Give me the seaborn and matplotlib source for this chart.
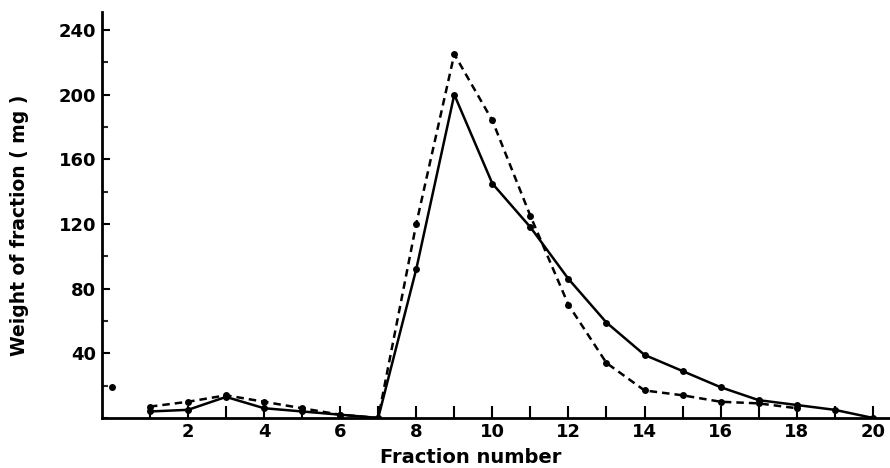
import matplotlib
matplotlib.use("Agg")
import matplotlib.pyplot as plt
import seaborn as sns
import pandas as pd
from matplotlib.ticker import MultipleLocator, FixedLocator

# ---- data ----
fraction = [1, 2, 3, 4, 5, 6, 7, 8, 9, 10, 11, 12, 13, 14, 15, 16, 17, 18, 19, 20]
solid_weight = [4, 5, 13, 6, 4, 2, 0, 92, 200, 145, 118, 86, 59, 39, 29, 19, 11, 8, 5, 0]

dash_fraction = [1, 2, 3, 4, 5, 6, 7, 8, 9, 10, 11, 12, 13, 14, 15, 16, 17, 18]
dashed_weight = [7, 10, 14, 10, 6, 2, 0, 120, 225, 184, 125, 70, 34, 17, 14, 10, 9, 6]

stray_x = [0]
stray_y = [19]

y_ticks = [40, 80, 120, 160, 200, 240]
x_label_ticks = [2, 4, 6, 8, 10, 12, 14, 16, 18, 20]

sns.set_theme(style="white")
plt.rcParams["font.family"] = ["DejaVu Sans"]
plt.rcParams["font.weight"] = "bold"
plt.rcParams["text.color"] = "black"
plt.rcParams["axes.labelcolor"] = "black"

fig = plt.figure(figsize=(8.9, 4.68), dpi=100)
ax = fig.add_axes([0.1146, 0.107, 0.884, 0.867])

df_s = pd.DataFrame({"x": fraction, "y": solid_weight})
df_d = pd.DataFrame({"x": dash_fraction, "y": dashed_weight})

sns.lineplot(data=df_s, x="x", y="y", ax=ax, color="black", linewidth=1.8,
             marker="o", markersize=5, markeredgewidth=0, sort=False)
sns.lineplot(data=df_d, x="x", y="y", ax=ax, color="black", linewidth=1.8,
             marker="o", markersize=5, markeredgewidth=0, sort=False,
             linestyle=(0, (3, 2)))
sns.scatterplot(x=stray_x, y=stray_y, ax=ax, color="black", s=25, linewidth=0)

ax.set_xlim(-0.26, 20.42)
ax.set_ylim(0, 251)

# ticks
ax.xaxis.set_major_locator(FixedLocator(list(range(1, 21))))
ax.set_xticklabels([str(v) if v in x_label_ticks else "" for v in range(1, 21)])
ax.yaxis.set_major_locator(FixedLocator(y_ticks))
ax.yaxis.set_minor_locator(MultipleLocator(20))
ax.tick_params(axis="x", direction="in", length=9, width=1.5, pad=4,
               labelsize=13, bottom=True, colors="black")
ax.tick_params(axis="y", which="major", direction="in", length=6, width=1.5,
               pad=4, labelsize=13, left=True, colors="black")
ax.tick_params(axis="y", which="minor", direction="in", length=4, width=1.5,
               left=True)
for lbl in ax.get_xticklabels() + ax.get_yticklabels():
    lbl.set_fontweight("bold")

for s in ["top", "right"]:
    ax.spines[s].set_visible(False)
for s in ["left", "bottom"]:
    ax.spines[s].set_color("black")
    ax.spines[s].set_linewidth(2)

ax.set_xlabel("Fraction number", fontsize=14, fontweight="bold", labelpad=2,
              color="black")
ax.set_ylabel("Weight of fraction ( mg )", fontsize=13.5, fontweight="bold",
              labelpad=22, color="black")
ax.xaxis.set_label_coords(0.468, -0.075)
ax.yaxis.set_label_coords(-0.093, 0.475)

fig.savefig("out.png", dpi=100)
